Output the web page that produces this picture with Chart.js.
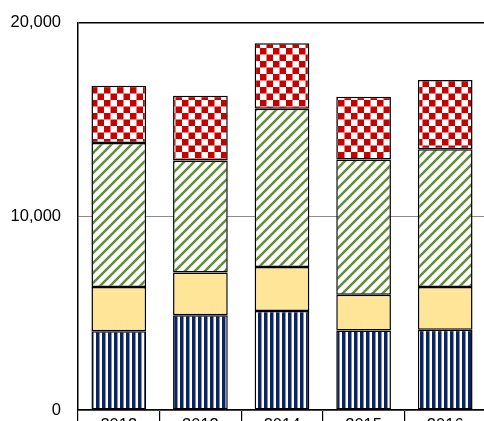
<!DOCTYPE html>
<html>
<head>
<meta charset="utf-8">
<script src="https://cdn.jsdelivr.net/npm/chart.js@4"></script>
<style>
  html, body { margin: 0; padding: 0; background: #fff; }
  #wrap { width: 484px; height: 421px; overflow: hidden; position: relative; }
  canvas { display: block; position: relative; top: -4px; }
</style>
</head>
<body>
<div id="wrap"><canvas id="chart" width="500" height="460"></canvas></div>
<script>
// データ
const years = ['2012', '2013', '2014', '2015', '2016'];
const blueVals = [4070, 4900, 5120, 4110, 4140];
const yellowVals = [2290, 2200, 2270, 1850, 2220];
const greenVals = [7440, 5790, 8180, 6980, 7110];
const redVals = [2950, 3350, 3380, 3250, 3580];
const yMin = 0, yMax = 20000, yStep = 10000;

// パターン
function makePattern(size, draw) {
    const c = document.createElement('canvas');
    c.width = size; c.height = size;
    const g = c.getContext('2d');
    g.fillStyle = '#fff';
    g.fillRect(0, 0, size, size);
    draw(g, size);
    return g.createPattern(c, 'repeat');
}
const ctx = document.getElementById('chart').getContext('2d');
const bluePattern = makePattern(6, (g, s) => {
    g.fillStyle = '#0b2462';
    g.fillRect(0, 0, 3.5, s);
});
const greenPattern = makePattern(10, (g, s) => {
    g.strokeStyle = '#5e8f36';
    g.lineWidth = 2.5;
    g.beginPath();
    g.moveTo(-2, s + 2); g.lineTo(s + 2, -2);
    g.moveTo(-2, 2); g.lineTo(2, -2);
    g.moveTo(s - 2, s + 2); g.lineTo(s + 2, s - 2);
    g.stroke();
});
const redPattern = makePattern(13, (g, s) => {
    g.fillStyle = '#c80000';
    g.fillRect(0, 0, 6.5, 6.5);
    g.fillRect(6.5, 6.5, 6.5, 6.5);
});

const common = { borderColor: '#000', borderWidth: 1.5, borderSkipped: false,
                 barPercentage: 0.67, categoryPercentage: 1.0 };

new Chart(ctx, {
    type: 'bar',
    data: {
        labels: years,
        datasets: [
            { ...common, label: 'A', data: blueVals, backgroundColor: bluePattern },
            { ...common, label: 'B', data: yellowVals, backgroundColor: '#ffe598' },
            { ...common, label: 'C', data: greenVals, backgroundColor: greenPattern },
            { ...common, label: 'D', data: redVals, backgroundColor: redPattern }
        ]
    },
    options: {
        responsive: false,
        animation: false,
        layout: { padding: { left: 0, top: 18, right: 14, bottom: 0 } },
        plugins: { legend: { display: false }, tooltip: { enabled: false } },
        scales: {
            x: {
                stacked: true,
                afterFit: (s) => { s.height = 46; },
                border: { color: '#000', width: 1.5 },
                grid: { offset: true, drawOnChartArea: false, drawTicks: true,
                        tickLength: 30, color: '#000', lineWidth: 1.2 },
                ticks: { padding: -24, color: '#000',
                         font: { family: 'Liberation Sans, Arial, sans-serif', size: 16.5 } }
            },
            y: {
                stacked: true,
                min: yMin, max: yMax,
                afterFit: (s) => { s.width = 78; },
                border: { color: '#000', width: 1.5 },
                grid: { drawTicks: false,
                        color: (c) => c.tick && c.tick.value === yMax ? '#000' : '#8c8c8c',
                        lineWidth: (c) => c.tick && c.tick.value === yMax ? 1.5 : 1 },
                ticks: { stepSize: yStep, padding: 17, color: '#000',
                         font: { family: 'Liberation Sans, Arial, sans-serif', size: 16.5 } }
            }
        }
    }
});
</script>
</body>
</html>
